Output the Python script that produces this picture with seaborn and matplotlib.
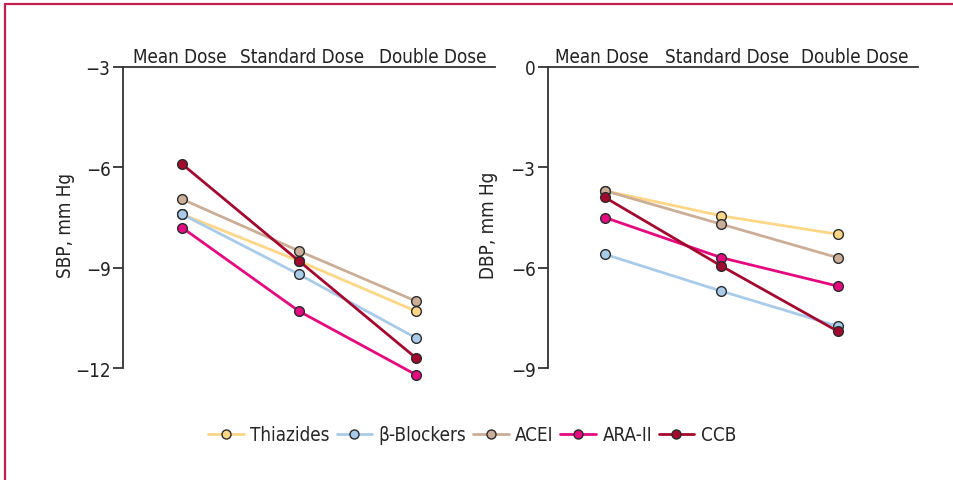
import matplotlib
matplotlib.use("Agg")
import matplotlib.pyplot as plt
from matplotlib.lines import Line2D
import seaborn as sns
import pandas as pd

# Dose levels and drug classes
doses = ["Mean Dose", "Standard Dose", "Double Dose"]
drugs = ["Thiazides", "β-Blockers", "ACEI", "ARA-II", "CCB"]

# Systolic blood pressure reduction (mm Hg) per dose level
sbp_thiazides = [-7.4, -8.8, -10.3]
sbp_beta_blockers = [-7.4, -9.2, -11.1]
sbp_acei = [-6.95, -8.5, -10.0]
sbp_ara_ii = [-7.8, -10.3, -12.2]
sbp_ccb = [-5.9, -8.8, -11.7]

# Diastolic blood pressure reduction (mm Hg) per dose level
dbp_thiazides = [-3.7, -4.45, -5.0]
dbp_beta_blockers = [-5.6, -6.7, -7.75]
dbp_acei = [-3.7, -4.7, -5.7]
dbp_ara_ii = [-4.5, -5.7, -6.55]
dbp_ccb = [-3.9, -5.95, -7.9]

sbp_ticks = [-12, -9, -6, -3]
dbp_ticks = [-9, -6, -3, 0]

colors = {
    "Thiazides": "#FDD686",
    "β-Blockers": "#A9CBEA",
    "ACEI": "#CBAE98",
    "ARA-II": "#E5097F",
    "CCB": "#A3082F",
}

sbp = [sbp_thiazides, sbp_beta_blockers, sbp_acei, sbp_ara_ii, sbp_ccb]
dbp = [dbp_thiazides, dbp_beta_blockers, dbp_acei, dbp_ara_ii, dbp_ccb]

rows = []
for drug, s_vals, d_vals in zip(drugs, sbp, dbp):
    for i, dose in enumerate(doses):
        rows.append({"drug": drug, "dose": dose, "pos": i,
                     "SBP": s_vals[i], "DBP": d_vals[i]})
df = pd.DataFrame(rows)

sns.set_theme(style="white")
plt.rcParams["font.family"] = ["DejaVu Sans"]
plt.rcParams["font.stretch"] = "condensed"

W, H = 954, 481
fig = plt.figure(figsize=(W / 100, H / 100), dpi=100)
fig.patch.set_facecolor("white")

ax_top_px = 68
px_per_unit = 33.45
fs = 13.5
ink = "#222222"


def make_axes(left_px, width_px, lo, hi):
    bottom_px = ax_top_px + (hi - lo) * px_per_unit
    return fig.add_axes([left_px / W, 1 - bottom_px / H,
                         width_px / W, (bottom_px - ax_top_px) / H])


panels = [
    dict(col="SBP", label="SBP, mm Hg", ticks=sbp_ticks, ylim=(-12.4, -3),
         left=123, width=372, xlim=(-0.504, 2.675),
         labelpos=[-0.02, 1.03, 2.14], label_x=-0.128),
    dict(col="DBP", label="DBP, mm Hg", ticks=dbp_ticks, ylim=(-9.4, 0),
         left=548, width=370, xlim=(-0.49, 2.69),
         labelpos=[-0.03, 1.05, 2.15], label_x=-0.134),
]

for p in panels:
    ax = make_axes(p["left"], p["width"], *p["ylim"])
    sns.lineplot(data=df, x="pos", y=p["col"], hue="drug", hue_order=drugs,
                 palette=colors, marker="o", markersize=7,
                 markeredgecolor="#2b2b2b", markeredgewidth=1.0,
                 linewidth=2.0, ax=ax, legend=False)
    ax.set_xlim(*p["xlim"])
    ax.set_ylim(*p["ylim"])
    ax.set_yticks(p["ticks"])
    ax.set_yticklabels([f"\u2212{abs(t)}" if t < 0 else f"{t}" for t in p["ticks"]])
    ax.xaxis.tick_top()
    ax.set_xticks(p["labelpos"])
    ax.set_xticklabels(doses)
    ax.tick_params(axis="x", length=0, pad=1, labelsize=fs, colors=ink)
    ax.tick_params(axis="y", left=True, length=7, width=1.2, pad=2,
                   labelsize=fs, colors=ink, direction="out")
    ax.set_xlabel("")
    ax.set_ylabel(p["label"], fontsize=fs, color=ink)
    ax.yaxis.set_label_coords(p["label_x"], 0.5)
    for side in ["right", "bottom"]:
        ax.spines[side].set_visible(False)
    for side in ["top", "left"]:
        ax.spines[side].set_color("#333333")
        ax.spines[side].set_linewidth(1.3)
    ax.spines["left"].set_bounds(p["ticks"][0], p["ticks"][-1])
    ax.grid(False)

handles = [Line2D([], [], color=colors[d], linewidth=2.0, marker="o",
                  markersize=6.5, markeredgecolor="#2b2b2b",
                  markeredgewidth=1.0) for d in drugs]
fig.legend(handles, drugs, loc="center", bbox_to_anchor=(0.495, 0.094),
           ncol=5, frameon=False, fontsize=fs, handlelength=1.9,
           handletextpad=0.35, columnspacing=0.35)

# Frame lines along the top and left edges
frame_color = "#C2204F"
fig.add_artist(Line2D([5 / W, 1], [1 - 4.5 / H, 1 - 4.5 / H],
                      transform=fig.transFigure, color=frame_color, lw=1.6))
fig.add_artist(Line2D([5 / W, 5 / W], [0, 1 - 4.5 / H],
                      transform=fig.transFigure, color=frame_color, lw=1.6))

fig.savefig("out.png", dpi=100, facecolor="white")
